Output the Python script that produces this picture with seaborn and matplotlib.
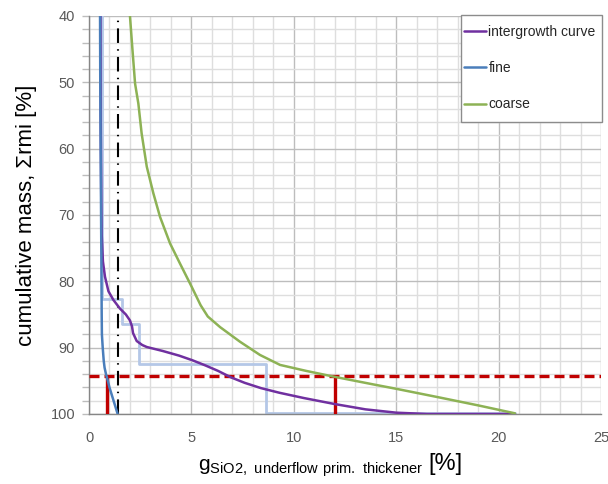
import numpy as np
import pandas as pd
import matplotlib
matplotlib.use("Agg")
import matplotlib.pyplot as plt
import seaborn as sns
from matplotlib.offsetbox import TextArea, HPacker, AnchoredOffsetbox
from matplotlib.patches import Rectangle
from matplotlib.ticker import MultipleLocator

# ---- data ----
fine_x = [0.54, 0.55, 0.57, 0.59, 0.61, 0.62, 0.63, 0.67, 0.72, 0.76, 0.83, 0.92, 1.00, 1.10, 1.20, 1.30, 1.40]
fine_y = [40, 50, 60, 70, 80, 85, 88, 90, 92, 93, 94, 95, 96, 97, 98, 99, 100]

inter_x = [0.56, 0.57, 0.60, 0.62, 0.68, 0.78, 0.95, 1.19, 1.51, 1.80, 2.00, 2.10, 2.15, 2.33, 2.60, 2.82,
           3.60, 4.40, 5.05, 5.70, 6.30, 6.95, 7.60, 8.40, 9.30, 10.5, 12.0, 13.5, 15.0, 16.5, 20.8]
inter_y = [40, 55, 68, 73, 77, 79.3, 81.5, 82.8, 84.1, 85.0, 85.9, 86.8, 87.8, 89.0, 89.6, 89.9,
           90.5, 91.2, 91.9, 92.7, 93.5, 94.5, 95.3, 96.1, 96.8, 97.6, 98.5, 99.3, 99.8, 100, 100]

coarse_x = [2.00, 2.12, 2.25, 2.41, 2.57, 2.82, 3.14, 3.47, 3.96, 4.44, 5.01, 5.45, 5.80, 6.40, 7.37,
            8.35, 9.33, 10.6, 12.0, 13.9, 15.0, 17.1, 19.0, 20.8]
coarse_y = [40, 45, 50.2, 53.2, 57.7, 62.7, 66.7, 70.3, 74.3, 77.3, 80.8, 83.6, 85.3, 86.9, 89.1,
            91.1, 92.6, 93.5, 94.4, 95.55, 96.2, 97.5, 98.7, 99.9]

step_x = [0.60, 0.62, 0.62, 1.63, 1.63, 2.44, 2.44, 8.63, 8.63, 20.8]
step_y = [40, 40, 82.6, 82.6, 86.4, 86.4, 92.5, 92.5, 99.8, 99.8]

limit_y = 94.2
limit_x = [0.86, 12.0]
ref_x = 1.43

xticks = [0, 5, 10, 15, 20, 25]
yticks = [40, 50, 60, 70, 80, 90, 100]

# ---- figure ----
sns.set_theme(style="white")
plt.rcParams['font.family'] = ['Liberation Sans', 'DejaVu Sans']

fig = plt.figure(figsize=(6.08, 4.84), dpi=100)
ax = fig.add_axes([89/608, 1-414/484, (601-89)/608, (414-16)/484])

# grid
ax.xaxis.set_major_locator(MultipleLocator(5))
ax.xaxis.set_minor_locator(MultipleLocator(1))
ax.yaxis.set_major_locator(MultipleLocator(10))
ax.yaxis.set_minor_locator(MultipleLocator(2))
ax.grid(which='major', color='#BDBDBD', lw=1.0)
ax.grid(which='minor', color='#DEDEDE', lw=1.0)
ax.set_axisbelow(True)

step_df = pd.DataFrame({'x': step_x, 'y': step_y})
sns.lineplot(data=step_df, x='x', y='y', sort=False, estimator=None, color='#B4C7E7', lw=2.0, ax=ax)

# dash-dot reference
ax.axvline(ref_x, color='black', lw=1.5, linestyle=(0, (7, 3, 0.7, 3)), zorder=3)

# red limits
ax.axhline(limit_y, color='#C00000', lw=2.4, linestyle=(0, (3.0, 1.5)), zorder=4)
for lx in limit_x:
    ax.vlines(lx, limit_y, 100, color='#C00000', lw=2.4, zorder=4)

c_df = pd.DataFrame({'x': coarse_x, 'y': coarse_y})
i_df = pd.DataFrame({'x': inter_x, 'y': inter_y})
f_df = pd.DataFrame({'x': fine_x, 'y': fine_y})
sns.lineplot(data=i_df, x='x', y='y', sort=False, estimator=None, color='#7030A0', lw=1.8, ax=ax,
             label='intergrowth curve', zorder=5)
sns.lineplot(data=f_df, x='x', y='y', sort=False, estimator=None, color='#4A7EBB', lw=1.8, ax=ax,
             label='fine', zorder=6)
sns.lineplot(data=c_df, x='x', y='y', sort=False, estimator=None, color='#8DB255', lw=1.8, ax=ax,
             label='coarse', zorder=5)

ax.set_xlim(0, 25)
ax.set_ylim(100, 40)
ax.set_xticks(xticks)
ax.set_yticks(yticks)
ax.set_xticklabels([str(v) for v in xticks])
ax.set_yticklabels([str(v) for v in yticks])
ax.tick_params(axis='x', which='both', length=0, pad=12, labelsize=10.5, labelcolor='#595959')
ax.tick_params(axis='y', which='both', length=5, width=1, color='#BDBDBD', direction='out',
               pad=5, labelsize=10.5, labelcolor='#595959', left=True)
for s in ['top', 'right']:
    ax.spines[s].set_visible(False)
for s in ['left', 'bottom']:
    ax.spines[s].set_color('#868686')
    ax.spines[s].set_linewidth(1.0)

ax.set_xlabel('')
ax.set_ylabel('cumulative mass, \u03a3rmi [%]', fontsize=16, color='black', labelpad=10)

# x label with subscript
ta1 = TextArea(r'g$_{\mathregular{SiO2,\ underflow\ prim.\ thickener}}$', textprops=dict(size=15, color='black'))
ta2 = TextArea('[%]', textprops=dict(size=17, color='black'))
pack = HPacker(children=[ta1, ta2], align='baseline', pad=0, sep=4)
abox = AnchoredOffsetbox(loc='center', child=pack, pad=0, frameon=False,
                         bbox_to_anchor=(330/608, 1-466/484), bbox_transform=fig.transFigure, borderpad=0)
fig.add_artist(abox)

# legend with a hand-sized frame
frame = Rectangle((461/608, 1-122/484), (602-461)/608, (122-15)/484, transform=fig.transFigure,
                  facecolor='white', edgecolor='#8C8C8C', lw=1.0, zorder=9, clip_on=False)
ax.add_patch(frame)
leg = ax.legend(loc='upper left', bbox_to_anchor=(464/608, 1-25/484), bbox_transform=fig.transFigure,
                frameon=False, fontsize=10, labelspacing=1.6,
                handlelength=1.6, handletextpad=0.15, borderpad=0, borderaxespad=0)
leg.set_zorder(10)

fig.savefig('out.png', dpi=100)
